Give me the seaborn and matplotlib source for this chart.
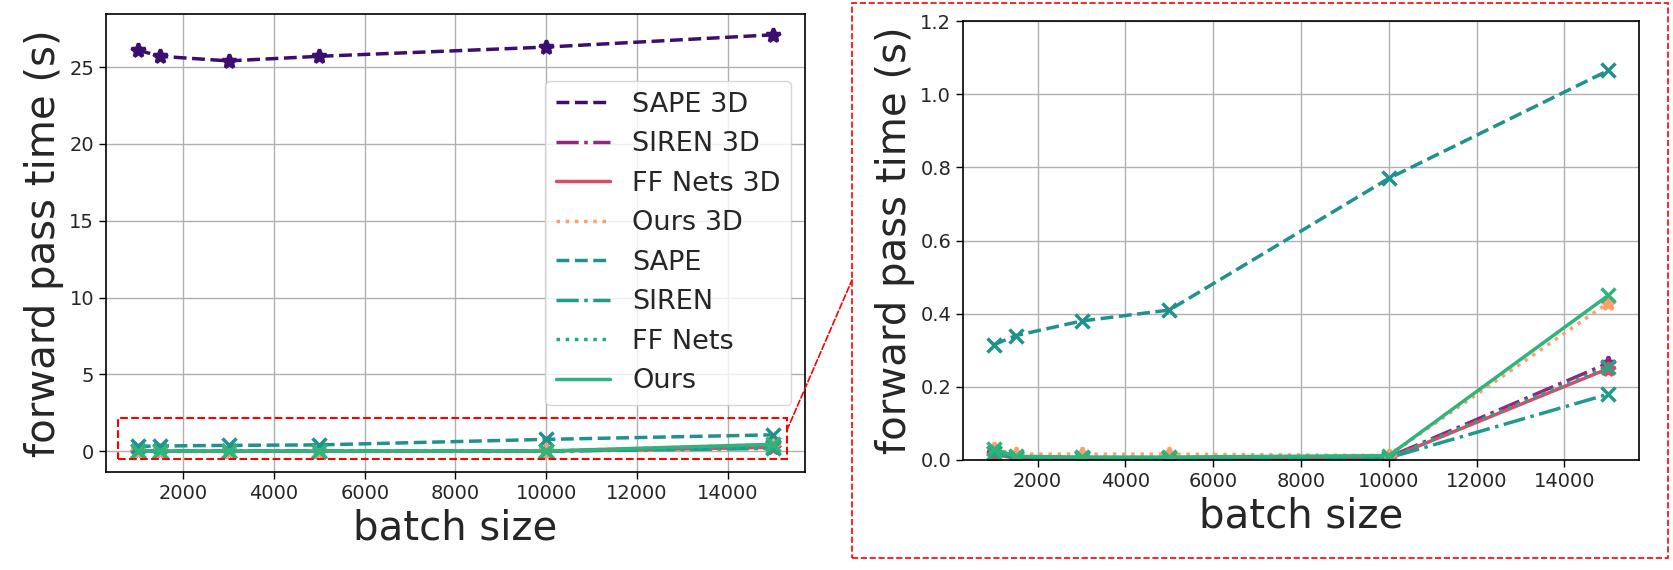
import numpy as np
import pandas as pd
import matplotlib
matplotlib.use("Agg")
import matplotlib.pyplot as plt
import seaborn as sns
from matplotlib.patches import Rectangle, ConnectionPatch
from matplotlib.lines import Line2D

# data
batch = [1000, 1500, 3000, 5000, 10000, 15000]
sape_3d = [26.1, 25.7, 25.4, 25.7, 26.3, 27.1]
siren_3d = [0.02, 0.008, 0.006, 0.006, 0.008, 0.265]
ff_3d = [0.015, 0.005, 0.004, 0.004, 0.005, 0.25]
ours_3d = [0.03, 0.016, 0.016, 0.016, 0.012, 0.43]
sape = [0.315, 0.34, 0.38, 0.41, 0.77, 1.065]
siren = [0.02, 0.006, 0.005, 0.005, 0.006, 0.18]
ff = [0.018, 0.006, 0.005, 0.005, 0.006, 0.255]
ours = [0.03, 0.01, 0.008, 0.008, 0.012, 0.45]

names = ["SAPE 3D", "SIREN 3D", "FF Nets 3D", "Ours 3D", "SAPE", "SIREN", "FF Nets", "Ours"]
values = [sape_3d, siren_3d, ff_3d, ours_3d, sape, siren, ff, ours]

magma = plt.get_cmap("magma")
viridis = plt.get_cmap("viridis")
colors = [magma(0.2), magma(0.4), magma(0.6), magma(0.8),
          viridis(0.5), viridis(0.55), viridis(0.6), viridis(0.65)]
styles = ["--", "-.", "-", ":", "--", "-.", ":", "-"]
markers = ["*", "*", "*", "*", "x", "x", "x", "x"]

sns.set_style("ticks")
plt.rcParams["font.family"] = ["DejaVu Sans"]

fig = plt.figure(figsize=(16.74, 5.70), dpi=100)
ax1 = fig.add_axes([0.0633, 0.172, 0.4176, 0.8035])
ax2 = fig.add_axes([0.5753, 0.193, 0.4038, 0.770])

for ax in [ax1, ax2]:
    for name, vals, c, ls, m in zip(names, values, colors, styles, markers):
        sns.lineplot(x=batch, y=vals, ax=ax, color=c, linestyle=ls, marker=m,
                     markersize=10, markeredgewidth=2.5, markeredgecolor=c,
                     linewidth=2.5, legend=False)
    ax.grid(True, color="#b0b0b0", linewidth=1)
    ax.set_axisbelow(True)
    ax.tick_params(labelsize=14, direction="out", length=5, width=1, color="black")
    for s in ax.spines.values():
        s.set_edgecolor("black")
        s.set_linewidth(1.2)
    ax.set_xlabel("batch size", fontsize=29)
    ax.set_ylabel("forward pass time (s)", fontsize=29)
    ax.set_xticks([2000, 4000, 6000, 8000, 10000, 12000, 14000])

ax2.set_ylim(0, 1.2)

# legend shows the line styles only
handles = [Line2D([], [], color=c, linestyle=ls, linewidth=2.5)
           for c, ls in zip(colors, styles)]
ax1.legend(handles, names, loc="center right", fontsize=19.5, handlelength=2.0,
           framealpha=0.8)

# zoom box on the left panel
ax1.add_patch(Rectangle((570, -0.52), 15300 - 570, 2.66, fill=False,
                        edgecolor="red", linestyle="--", linewidth=1.5,
                        clip_on=False, zorder=10))
fig.add_artist(Rectangle((852 / 1674, 1 - 558 / 570), (1668 - 852) / 1674, (558 - 3) / 570,
                         transform=fig.transFigure, fill=False, edgecolor="red",
                         linestyle="--", linewidth=1.2))
con = ConnectionPatch(xyA=(15300, 1.36), coordsA=ax1.transData,
                      xyB=(852 / 1674, 1 - 280 / 570), coordsB=fig.transFigure,
                      color="red", linestyle="--", linewidth=1.2)
fig.add_artist(con)

fig.savefig("out.png", dpi=100)
